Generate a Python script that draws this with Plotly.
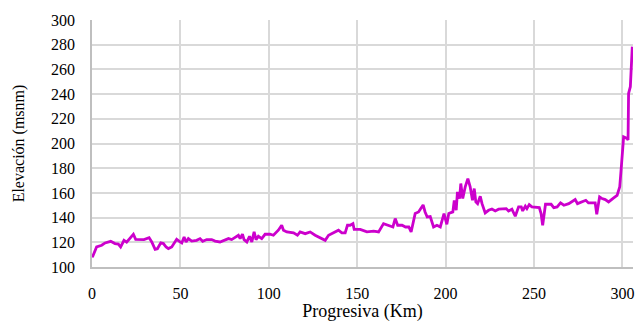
import plotly.graph_objects as go

km = [0, 0.4, 2.6, 5.5, 7.4, 10.6, 13, 14.9, 16.2, 18.1, 19.6, 21.5, 23.4, 24.7, 27.2, 29.4,
      32.3, 33.8, 35.7, 37, 38.9, 40.4, 41.9, 43.2, 45.1, 47.9, 49.4, 50.8, 52.1, 53.2, 54.5,
      56.4, 59.2, 61.1, 62.6, 64.9, 67.7, 69.6, 72.4, 75.3, 77.2, 79, 80.9, 82.8, 83.8, 85.1,
      86, 87.6, 89.1, 90.4, 91.7, 92.8, 94.1, 96, 97.9, 100.7, 102.6, 105.4, 107.3, 108.3,
      110.2, 114, 116.2, 117.7, 120.6, 123.4, 126.2, 129.1, 131.9, 133.8, 136.6, 139.4, 141.3,
      143.2, 144.5, 146, 147.6, 148.3, 151.7, 155.5, 159.3, 162.1, 164.9, 167.8, 170.2, 171.5,
      172.9, 175.4, 177.3, 179.2, 180.5, 182.8, 184.7, 185.6, 187.3, 188.4, 189.6, 191.3,
      193.2, 195.1, 197, 199.1, 200.7, 201.8, 204.1, 204.9, 206, 206.7, 207.9, 208.6, 209.7,
      211.1, 212.6, 213.9, 215.2, 216.2, 217.1, 218.1, 219.6, 220.6, 222.4, 224.3, 226.2,
      228.1, 230, 234.3, 235.6, 237.5, 239.4, 241.3, 242.8, 243.6, 245.1, 246, 247.3, 248.8,
      253, 254, 254.9, 256.5, 259.7, 261.2, 263.1, 265, 266.9, 269.7, 273.3, 274.6, 278,
      279.3, 280.8, 284.6, 285.5, 287.1, 288.5, 290.3, 292.2, 293.2, 295.1, 297, 298.5,
      299.4, 300.7, 302.6, 303.2, 303.5, 304.5, 305.6]
elevacion = [108.1, 108.6, 116.2, 117.6, 119.5, 120.8, 119, 118.6, 116.2, 121.6, 120.2, 123.8,
             126.5, 122.4, 122.2, 122.2, 123.8, 120.3, 114.3, 114.8, 119.5, 119, 116.2, 114.9,
             116.2, 122.4, 120.8, 119.5, 124.3, 120.3, 123, 121, 121.6, 123, 120.8, 122.2, 122.2,
             121, 120.3, 122.2, 123, 122.2, 123.8, 125.7, 123, 126.5, 122.2, 120.3, 124.9, 120.3,
             128.4, 122.2, 124.9, 123, 126.5, 126.5, 125.7, 129.8, 133.8, 129.8, 128.4, 127.6,
             125.7, 128.4, 127, 128.4, 125.7, 123.8, 121.6, 125.7, 127.6, 129.8, 127.6, 127.6,
             133.8, 133.8, 135.1, 130.5, 130.5, 128.4, 129, 128.4, 135.1, 133.8, 132.4, 139.2,
             133.8, 133.8, 132.4, 132.4, 128.4, 143.3, 144.6, 146.5, 150.2, 144.6, 140.5, 140.8,
             132.4, 133.8, 132.4, 143.3, 134.6, 143.3, 144.6, 154, 146, 160.8, 155.4, 167.6,
             155.4, 164.9, 171.6, 164.9, 154, 163.5, 152.7, 151.3, 157.3, 151.3, 143.8, 145.9,
             147, 145.4, 146.8, 147.3, 145.4, 146.8, 141.1, 148.7, 148.7, 145.4, 149.2, 147.3,
             150.5, 148.7, 148.1, 143.3, 133.8, 150.8, 150.8, 148.1, 148.7, 151.9, 150, 151.3,
             154.6, 151.3, 153.2, 154, 151.9, 151.9, 142.7, 156.8, 155.4, 154.6, 152.7, 154,
             155.9, 158, 164.9, 181.1, 205.4, 204.1, 202.8, 240.6, 246, 278.4]

x_ticks = [0, 50, 100, 150, 200, 250, 300]
y_ticks = [100, 120, 140, 160, 180, 200, 220, 240, 260, 280, 300]

fig = go.Figure(go.Scatter(
    x=km, y=elevacion, mode="lines",
    line=dict(color="#CC00CC", width=2.8),
    hoverinfo="skip",
))

family = "Liberation Serif, Times New Roman, serif"
tick_font = dict(family=family, size=16, color="#000000")

fig.update_layout(
    width=637, height=322,
    margin=dict(l=92, r=4, t=20, b=55),
    paper_bgcolor="white", plot_bgcolor="white",
    showlegend=False,
    font=tick_font,
    xaxis=dict(
        range=[0, 306], tickvals=x_ticks, ticktext=[str(v) for v in x_ticks],
        showgrid=True, gridcolor="#D9D9D9", gridwidth=1.5,
        showline=True, linecolor="#BFBFBF", linewidth=1.5,
        zeroline=False, ticks="", ticklabelstandoff=11, tickfont=tick_font,
        automargin=False,
        title=dict(text="Progresiva (Km)", standoff=10,
                   font=dict(family=family, size=18, color="#000000")),
    ),
    yaxis=dict(
        range=[100, 300], tickvals=y_ticks, ticktext=[str(v) for v in y_ticks],
        showgrid=True, gridcolor="#D9D9D9", gridwidth=1.5,
        showline=True, linecolor="#BFBFBF", linewidth=1.5,
        zeroline=False, ticks="", ticklabelstandoff=12, tickfont=tick_font,
        automargin=False,
        title=dict(text="Elevación (msnm)", standoff=22,
                   font=dict(family=family, size=16, color="#000000")),
    ),
)

fig.write_html("out.html")
